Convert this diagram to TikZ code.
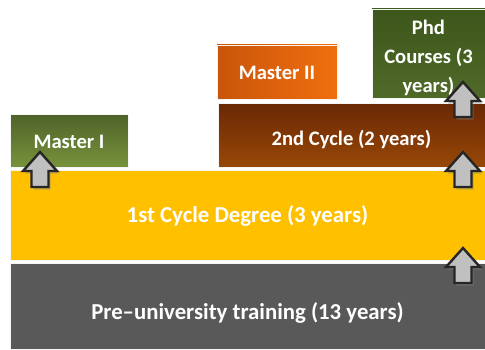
\documentclass[tikz,border=0pt]{standalone}
\usepackage{fontspec}
\setmainfont{Carlito}
\usetikzlibrary{shadows}

\definecolor{pregray}{HTML}{595959}
\definecolor{cycleyellow}{HTML}{FFC000}
\definecolor{greentop}{HTML}{4F6228}
\definecolor{greenbot}{HTML}{77933C}
\definecolor{phdtop}{HTML}{3D561C}
\definecolor{phdbot}{HTML}{4F6A28}
\definecolor{browntop}{HTML}{6A2805}
\definecolor{brownbot}{HTML}{984807}
\definecolor{orangeleft}{HTML}{C9550A}
\definecolor{orangeright}{HTML}{F06F0E}
\definecolor{arrowfill}{HTML}{C0C0C0}
\definecolor{arrowedge}{HTML}{262626}

\tikzset{
  level/.style={draw=white!92!gray, line width=0.8pt,
    inner sep=0pt, outer sep=0pt},
  leveltext/.style={text=white, align=center, inner sep=0pt,
    font=\bfseries\fontsize{20.6}{29}\selectfont},
  basetext/.style={leveltext, font=\bfseries\fontsize{22.8}{29}\selectfont},
  arrowline/.style={draw=arrowedge, line width=2.4pt, fill=arrowfill,
    line join=miter,
    drop shadow={shadow xshift=2pt, shadow yshift=-2.5pt, opacity=0.45}},
  uparrow/.pic={
    \draw[arrowline] (-8.5,0) -- (8.5,0) -- (8.5,16) -- (17,16) -- (0,35)
      -- (-17,16) -- (-8.5,16) -- cycle;
  }
}

\begin{document}
\begin{tikzpicture}[x=1pt,y=1pt]
    \useasboundingbox[fill=white] (0,0) rectangle (485,349);

    % levels
    \node[level, fill=pregray, minimum width=475, minimum height=86]
      (pre) at (247.5,43) {};
    \node[level, fill=cycleyellow, minimum width=475, minimum height=90]
      (first) at (247.5,134) {};
    \node[level, top color=browntop, bottom color=brownbot,
      minimum width=267, minimum height=64] (second) at (351.5,214) {};
    \node[level, top color=greentop, bottom color=greenbot,
      minimum width=118, minimum height=53] (masterone) at (69,208.5) {};
    \node[level, left color=orangeleft, right color=orangeright,
      minimum width=120, minimum height=54] (mastertwo) at (277,277) {};
    \node[level, top color=phdtop, bottom color=phdbot,
      minimum width=113, minimum height=89] (phd) at (428.5,295.5) {};

    % texts
    \node[basetext] (pretext) at ([yshift=-7]pre.center)
      {Pre–university training (13 years)};
    \node[basetext] (firsttext) at ([yshift=-1]first.center)
      {1st Cycle Degree (3 years)};
    \node[leveltext] (secondtext) at ([yshift=-4]second.center)
      {2nd Cycle (2 years)};
    \node[leveltext] (masteronetext) at ([yshift=-1]masterone.center) {Master I};
    \node[leveltext] (mastertwotext) at ([yshift=-1]mastertwo.center) {Master II};
    \node[leveltext] (phdtext) at ([yshift=-4]phd.center)
      {Phd\\Courses (3\\years)};

    % arrows
    \pic at (40,162) {uparrow};
    \pic at (463,162) {uparrow};
    \pic at (463,66) {uparrow};
    \pic at (463,232) {uparrow};
\end{tikzpicture}
\end{document}
